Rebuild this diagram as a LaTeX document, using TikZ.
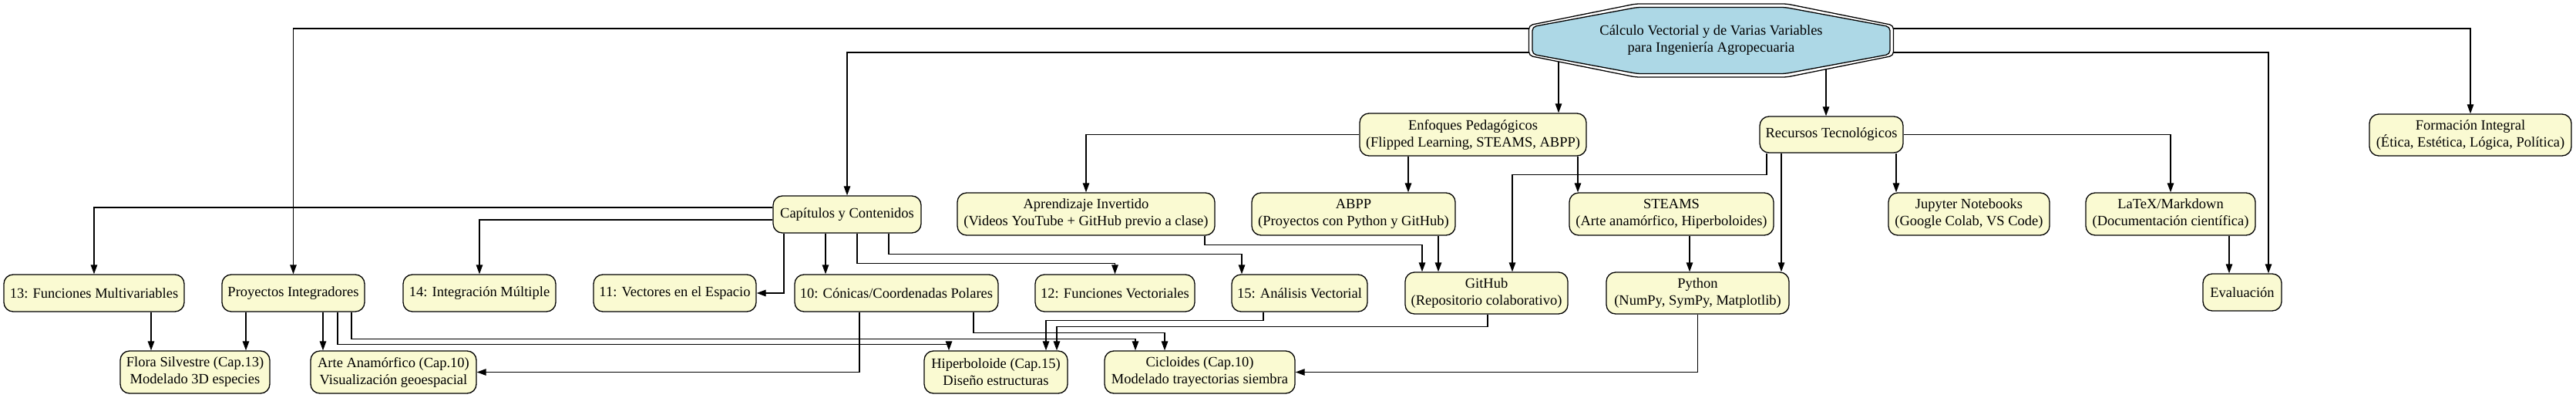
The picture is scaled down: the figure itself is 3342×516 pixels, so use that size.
\documentclass[tikz,border=0pt]{standalone}
\usepackage{fontspec}
\setmainfont{Liberation Serif}
\usetikzlibrary{arrows.meta}
\definecolor{nodefill}{RGB}{250,250,210}
\definecolor{rootfill}{RGB}{173,216,230}
\pgfdeclarelayer{edges}
\pgfdeclarelayer{deco}
\pgfsetlayers{edges,deco,main}
\begin{document}
\begin{tikzpicture}[x=1pt,y=1pt,
  txt/.style={align=center, inner sep=0pt, font=\fontsize{18.5pt}{22pt}\selectfont},
  box/.style={txt, draw=black, line width=1.3pt, fill=nodefill, rounded corners=12pt},
  arr/.style={line width=1.3pt, -{Triangle[length=12pt,width=8.5pt]}},
  oct/.style={draw=black, line width=1.3pt, rounded corners=5pt}]
\useasboundingbox (0,0) rectangle (3342,-516);

% root
\node[txt, minimum width=473pt, minimum height=95pt] (root) at (2220,-52.5)
  {Cálculo Vectorial y de Varias Variables\\para Ingeniería Agropecuaria};

% row 1
\node[box, minimum width=294pt, minimum height=55pt] (enf) at (1911,-174.5)
  {Enfoques Pedagógicos\\(Flipped Learning, STEAMS, ABPP)};
\node[box, minimum width=186pt, minimum height=47pt] (rec) at (2376,-174.5)
  {Recursos Tecnológicos};
\node[box, minimum width=262pt, minimum height=54pt] (form) at (3205,-175)
  {Formación Integral\\(Ética, Estética, Lógica, Política)};

% row 2
\node[box, minimum width=192pt, minimum height=48pt] (cap) at (1099,-278)
  {Capítulos y Contenidos};
\node[box, minimum width=334pt, minimum height=55pt] (apr) at (1409,-277.5)
  {Aprendizaje Invertido\\(Videos YouTube + GitHub previo a clase)};
\node[box, minimum width=264pt, minimum height=55pt] (abpp) at (1756,-277.5)
  {ABPP\\(Proyectos con Python y GitHub)};
\node[box, minimum width=265pt, minimum height=55pt] (steams) at (2168.5,-277.5)
  {STEAMS\\(Arte anamórfico, Hiperboloides)};
\node[box, minimum width=209pt, minimum height=55pt] (jup) at (2554.5,-277.5)
  {Jupyter Notebooks\\(Google Colab, VS Code)};
\node[box, minimum width=220pt, minimum height=55pt] (latex) at (2816,-277.5)
  {LaTeX/Markdown\\(Documentación científica)};

% row 3
\node[box, minimum width=234pt, minimum height=48pt] (c13) at (122,-380)
  {13: Funciones Multivariables};
\node[box, minimum width=185pt, minimum height=48pt] (proj) at (380.5,-380)
  {Proyectos Integradores};
\node[box, minimum width=198pt, minimum height=48pt] (c14) at (622,-380)
  {14: Integración Múltiple};
\node[box, minimum width=211pt, minimum height=48pt] (c11) at (875.5,-380)
  {11: Vectores en el Espacio};
\node[box, minimum width=264pt, minimum height=48pt] (c10) at (1163,-380)
  {10: Cónicas/Coordenadas Polares};
\node[box, minimum width=207pt, minimum height=48pt] (c12) at (1446.5,-380)
  {12: Funciones Vectoriales};
\node[box, minimum width=176pt, minimum height=48pt] (c15) at (1686,-380)
  {15: Análisis Vectorial};
\node[box, minimum width=211pt, minimum height=54pt] (git) at (1928.5,-380)
  {GitHub\\(Repositorio colaborativo)};
\node[box, minimum width=237pt, minimum height=54pt] (py) at (2202.5,-380)
  {Python\\(NumPy, SymPy, Matplotlib)};
\node[box, minimum width=102pt, minimum height=48pt] (eval) at (2909,-379)
  {Evaluación};

% row 4
\node[box, minimum width=194pt, minimum height=55pt] (flora) at (253,-482.5)
  {Flora Silvestre (Cap.13)\\Modelado 3D especies};
\node[box, minimum width=215pt, minimum height=55pt] (arte) at (510.5,-482.5)
  {Arte Anamórfico (Cap.10)\\Visualización geoespacial};
\node[box, minimum width=186pt, minimum height=55pt] (hip) at (1292,-482.5)
  {Hiperboloide (Cap.15)\\Diseño estructuras};
\node[box, minimum width=247pt, minimum height=55pt] (cic) at (1556.5,-482.5)
  {Cicloides (Cap.10)\\Modelado trayectorias siembra};

% port coordinates
\coordinate (r5) at ([xshift=111pt]enf.north);
\coordinate (r6) at ([xshift=-7pt]rec.north);
\coordinate (p10) at ([xshift=-28pt]cap.south);
\coordinate (p14) at ([xshift=-84pt]enf.south);
\coordinate (p15) at ([xshift=136pt]enf.south);
\coordinate (p17) at ([xshift=-65pt]rec.south);
\coordinate (p18) at ([xshift=84pt]rec.south);
\coordinate (p21) at ([xshift=110pt]abpp.south);
\coordinate (p22) at ([xshift=23.5pt]steams.south);
\coordinate (p23) at ([xshift=76pt]latex.south);
\coordinate (p24) at ([xshift=74pt]c13.south);
\coordinate (p25) at ([xshift=-61.5pt]proj.south);
\coordinate (p26) at ([xshift=38.5pt]proj.south);

\begin{pgfonlayer}{edges}
% from root
\draw[arr] ([yshift=15.5pt]root.center) -| (proj.north);
\draw[arr] ([yshift=15.5pt]root.center) -| (form.north);
\draw[arr] ([yshift=-15.5pt]root.center) -| (cap.north);
\draw[arr] ([yshift=-15.5pt]root.center) -| ([xshift=34pt]eval.north);
\draw[arr] (root.center -| r5) -- (r5);
\draw[arr] (root.center -| r6) -- (r6);
% from Capitulos
\draw[arr] ([yshift=9pt]cap.west) -| (c13.north);
\draw[arr] ([yshift=-7pt]cap.west) -| (c14.north);
\draw[arr] ([xshift=-82pt]cap.south) |- (c11.east);
\draw[arr] (p10) -- (p10 |- c10.north);
\draw[arr] ([xshift=13pt]cap.south) -- ++(0,-39) -| (c12.north);
\draw[arr] ([xshift=54pt]cap.south) -- ++(0,-27) -| ([xshift=-75pt]c15.north);
% from Enfoques
\draw[arr] (enf.west) -| (apr.north);
\draw[arr] (p14) -- (p14 |- abpp.north);
\draw[arr] (p15) -- (p15 |- steams.north);
% from Recursos
\draw[arr] ([xshift=-84pt]rec.south) -- ++(0,-28) -| ([xshift=33.5pt]git.north);
\draw[arr] (p17) -- (p17 |- py.north);
\draw[arr] (p18) -- (p18 |- jup.north);
\draw[arr] (rec.east) -| (latex.north);
% row 2 to row 3
\draw[arr] ([xshift=154pt]apr.south) -- ++(0,-12) -| ([xshift=-83.5pt]git.north);
\draw[arr] (p21) -- (p21 |- git.north);
\draw[arr] (p22) -- (p22 |- py.north);
\draw[arr] (p23) -- (p23 |- eval.north);
% row 3 to row 4
\draw[arr] (p24) -- (p24 |- flora.north);
\draw[arr] (p25) -- (p25 |- flora.north);
\draw[arr] (p26) -- (p26 |- arte.north);
\draw[arr] ([xshift=57.5pt]proj.south) -- ++(0,-42) -| ([xshift=-61pt]hip.north);
\draw[arr] ([xshift=75.5pt]proj.south) -- ++(0,-35) -| ([xshift=-83.5pt]cic.north);
\draw[arr] ([xshift=-48pt]c10.south) |- (arte.east);
\draw[arr] ([xshift=100pt]c10.south) -- ++(0,-27) -| ([xshift=-45.5pt]cic.north);
\draw[arr] ([xshift=-47pt]c15.south) -- ++(0,-11) -| ([xshift=65pt]hip.north);
\draw[arr] ([xshift=1.5pt]git.south) -- ++(0,-16) -| ([xshift=79pt]hip.north);
\draw[arr] (py.south) |- (cic.east);
\end{pgfonlayer}

\begin{pgfonlayer}{deco}
\begin{scope}[shift={(root.center)}]
\draw[oct, fill=white] (-236.5,19.7) -- (-98,47.5) -- (98,47.5) -- (236.5,19.7)
  -- (236.5,-19.7) -- (98,-47.5) -- (-98,-47.5) -- (-236.5,-19.7) -- cycle;
\draw[oct, fill=rootfill] (-232,17.8) -- (-96,43) -- (96,43) -- (232,17.8)
  -- (232,-17.8) -- (96,-43) -- (-96,-43) -- (-232,-17.8) -- cycle;
\end{scope}
\end{pgfonlayer}
\end{tikzpicture}
\end{document}
